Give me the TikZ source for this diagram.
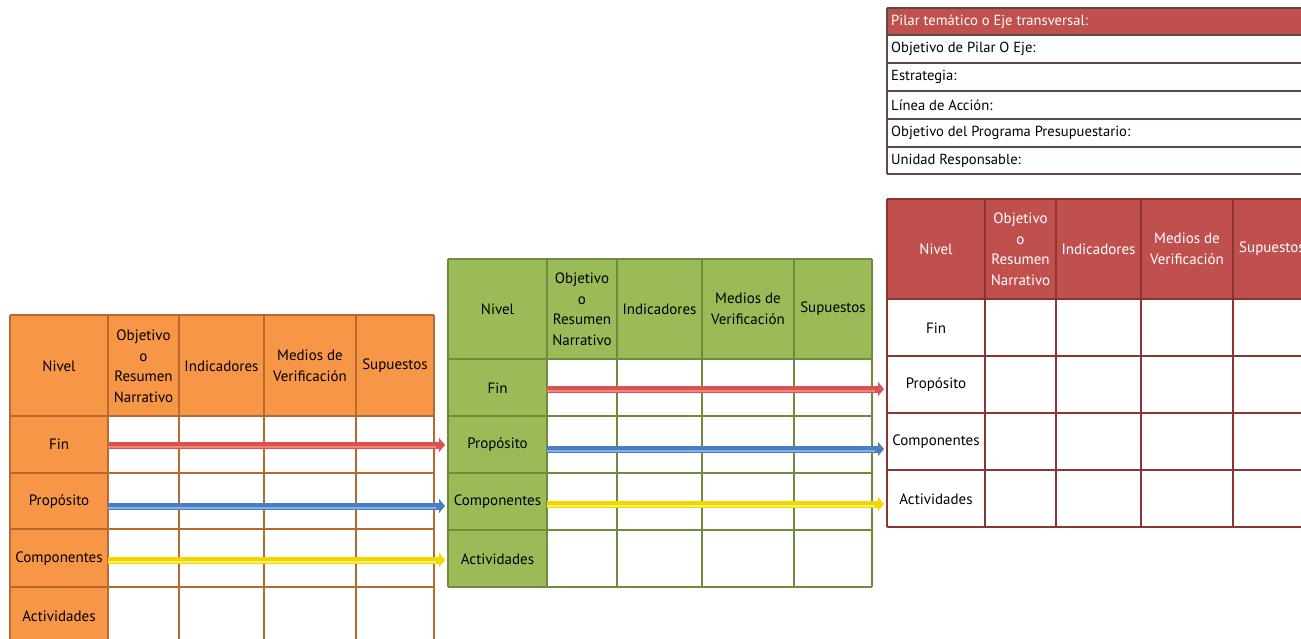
\documentclass[tikz,border=0pt]{standalone}
\usepackage{fontspec}
\setmainfont{PT Sans}
\usetikzlibrary{arrows.meta}
\definecolor{orfill}{HTML}{F79646}
\definecolor{orline}{HTML}{B8692E}
\definecolor{grfill}{HTML}{9BBB59}
\definecolor{grline}{HTML}{6E8C3C}
\definecolor{rdfill}{HTML}{C0504D}
\definecolor{rdline}{HTML}{8C3433}
\definecolor{hdline}{HTML}{5E4848}
\definecolor{arRed}{HTML}{D9534F}
\definecolor{arRedL}{HTML}{EE8580}
\definecolor{arBlue}{HTML}{4A7EC4}
\definecolor{arBlueL}{HTML}{84B0E6}
\definecolor{arYel}{HTML}{F2D600}
\definecolor{arYelL}{HTML}{FFEF60}
\tikzset{
  cell/.style={inner sep=0pt, align=center, font=\fontsize{15}{20.5}\selectfont},
  hdtext/.style={inner sep=0pt, anchor=west, font=\fontsize{14.6}{16}\selectfont},
  flowarrow/.style={line width=7pt, -{Triangle[length=6pt,width=14pt]}},
  flowlight/.style={line width=1.6pt},
}
\begin{document}
\begin{tikzpicture}[x=1pt,y=-1pt]
\useasboundingbox (0,0) rectangle (1301,638);
\clip (0,0) rectangle (1301,638);
\fill[white] (0,0) rectangle (1301,638);

% ---------- header info box ----------
\fill[rdfill] (887,8) rectangle (1310,35);
\foreach \y in {8,35,63,91,119,147,174} \draw[hdline, line width=1.5pt] (887,\y) -- (1310,\y);
\draw[hdline, line width=1.5pt] (887,8) -- (887,174);
\node[hdtext, text=white] (h1) at (891,21.5) {Pilar temático o Eje transversal:};
\node[hdtext] (h2) at (891,49) {Objetivo de Pilar O Eje:};
\node[hdtext] (h3) at (891,77) {Estrategia:};
\node[hdtext] (h4) at (891,105) {Línea de Acción:};
\node[hdtext] (h5) at (891,133) {Objetivo del Programa Presupuestario:};
\node[hdtext] (h6) at (891,160.5) {Unidad Responsable:};

% ---------- orange table ----------
\fill[orfill] (10,315) rectangle (434,416);
\fill[orfill] (10,416) rectangle (108,644);
\foreach \x in {10,108,179,264,356,434} \draw[orline, line width=1.4pt] (\x,315) -- (\x,644);
\foreach \y in {315,416,473,529,587} \draw[orline, line width=1.4pt] (10,\y) -- (434,\y);
\node[cell] (oNivel) at (59,366) {Nivel};
\node[cell] (oObj) at (143.5,366) {Objetivo\\o\\Resumen\\Narrativo};
\node[cell] (oInd) at (221.5,366) {Indicadores};
\node[cell] (oMed) at (310,366) {Medios de\\Verificación};
\node[cell] (oSup) at (395,366) {Supuestos};
\node[cell] (oFin) at (59,444.5) {Fin};
\node[cell] (oPro) at (59,502) {Propósito};
\node[cell] (oCom) at (59,559) {Componentes};
\node[cell] (oAct) at (59,616) {Actividades};

% ---------- green table ----------
\fill[grfill] (448,259) rectangle (872,359);
\fill[grfill] (448,359) rectangle (547,587);
\foreach \x in {448,547,617,702,794,872} \draw[grline, line width=1.4pt] (\x,259) -- (\x,587);
\foreach \y in {259,359,416,473,530,587} \draw[grline, line width=1.4pt] (448,\y) -- (872,\y);
\node[cell] (gNivel) at (497.5,309) {Nivel};
\node[cell] (gObj) at (582,309) {Objetivo\\o\\Resumen\\Narrativo};
\node[cell] (gInd) at (659.5,309) {Indicadores};
\node[cell] (gMed) at (748,309) {Medios de\\Verificación};
\node[cell] (gSup) at (833,309) {Supuestos};
\node[cell] (gFin) at (497.5,388) {Fin};
\node[cell] (gPro) at (497.5,445) {Propósito};
\node[cell] (gCom) at (497.5,502) {Componentes};
\node[cell] (gAct) at (497.5,559) {Actividades};

% ---------- red table ----------
\fill[rdfill] (887,199) rectangle (1320,299);
\foreach \x in {887,985,1056,1141,1233} \draw[rdline, line width=1.4pt] (\x,199) -- (\x,527);
\foreach \y in {199,299,356,413,470,527} \draw[rdline, line width=1.4pt] (887,\y) -- (1320,\y);
\node[cell, text=white] (rNivel) at (936,249) {Nivel};
\node[cell, text=white] (rObj) at (1020.5,249) {Objetivo\\o\\Resumen\\Narrativo};
\node[cell, text=white] (rInd) at (1098.5,249) {Indicadores};
\node[cell, text=white] (rMed) at (1187,249) {Medios de\\Verificación};
\node[cell, text=white, anchor=west] (rSup) at (1239,249) {Supuestos};
\node[cell] (rFin) at (936,328) {Fin};
\node[cell] (rPro) at (936,385) {Propósito};
\node[cell] (rCom) at (936,442) {Componentes};
\node[cell] (rAct) at (936,499) {Actividades};

% ---------- arrows ----------
\coordinate (oA1) at (108,445); \coordinate (oB1) at (445,445);
\coordinate (oA2) at (108,506); \coordinate (oB2) at (445,506);
\coordinate (oA3) at (108,560); \coordinate (oB3) at (445,560);
\coordinate (gA1) at (547,389); \coordinate (gB1) at (884,389);
\coordinate (gA2) at (547,449); \coordinate (gB2) at (884,449);
\coordinate (gA3) at (547,504); \coordinate (gB3) at (884,504);

\foreach \a/\b/\c/\l in {oA1/oB1/arRed/arRedL, oA2/oB2/arBlue/arBlueL, oA3/oB3/arYel/arYelL,
                         gA1/gB1/arRed/arRedL, gA2/gB2/arBlue/arBlueL, gA3/gB3/arYel/arYelL}{
  \draw[flowarrow, draw=\c, fill=\c] (\a) -- (\b);
  \draw[flowlight, draw=\l] ([yshift=-1.8pt]\a) -- ([xshift=-9pt,yshift=-1.8pt]\b);
}
\end{tikzpicture}
\end{document}
